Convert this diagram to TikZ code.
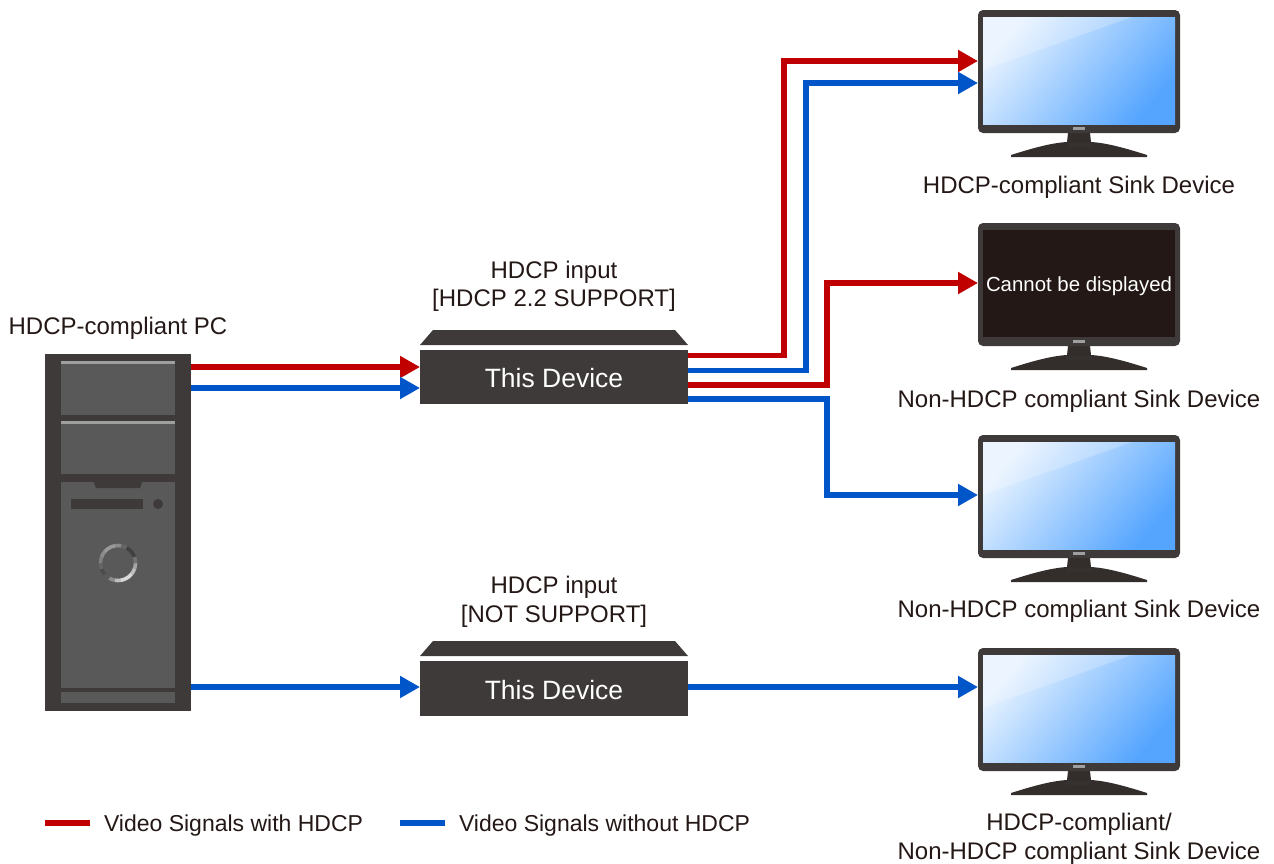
\documentclass[tikz,border=0pt]{standalone}
\usepackage{fontspec}
\setmainfont{Liberation Sans}
\usetikzlibrary{arrows.meta}
\definecolor{body}{HTML}{3E3A39}
\definecolor{panel}{HTML}{595959}
\definecolor{standc}{HTML}{332E2C}
\definecolor{sigred}{HTML}{C00000}
\definecolor{sigblue}{HTML}{0055C8}
\definecolor{txt}{HTML}{231815}
\definecolor{scrA}{HTML}{E6F2FF}
\definecolor{scrB}{HTML}{96C8FF}
\definecolor{scrC}{HTML}{55A5FF}
\tikzset{
  x=1pt,y=-1pt,
  base/.style={inner sep=0pt,outer sep=0pt},
  lbl/.style={base,anchor=base,font=\fontsize{24}{28}\selectfont,text=txt},
  leglbl/.style={base,anchor=base west,font=\fontsize{23}{27}\selectfont,text=txt},
  devtext/.style={base,anchor=center,font=\fontsize{26.5}{30}\selectfont,text=white},
  devbody/.style={base,fill=body,minimum width=268pt,minimum height=54pt},
  frame/.style={base,fill=body,rounded corners=5pt,minimum width=202pt,minimum height=123pt},
  sig/.style={line width=5.5pt,-{Triangle[length=20pt,width=21pt]}},
  legend/.style={line width=5.5pt},
  pcpanel/.style={fill=panel,draw=none},
}
\newcommand{\lidshape}[1]{\fill[body] (420,#1+15) -- (433,#1) -- (675,#1) -- (688,#1+15) -- cycle;}
\newcommand{\monitorat}[2]{%
  \begin{scope}[shift={(0,#2)}]
    \fill[standc] (1068,133) -- (1090,133) -- (1091,142) .. controls (1108,143) and (1128,149) .. (1147,155) -- (1147,157) -- (1011,157) -- (1011,155) .. controls (1030,149) and (1050,143) .. (1067,142) -- cycle;
    \fill[body!85!black] (1066,143) rectangle (1092,147);
    \node[frame] (#1) at (1079,71.5) {};
  \end{scope}}
\newcommand{\bluescreen}[1]{%
  \begin{scope}[shift={(0,#1)}]
    \shade[top color=scrA,middle color=scrB,bottom color=scrC,shading angle=50] (983,17) rectangle (1175,124);
    \fill[white,opacity=0.22] (983,17) -- (1132,17) -- (983,70) -- cycle;
    \fill[gray!75] (1073,127) rectangle (1085,130);
  \end{scope}}
\begin{document}
\begin{tikzpicture}
\useasboundingbox (0,0) rectangle (1274,863);
% PC
\node[base,fill=body,minimum width=146pt,minimum height=357pt] (pc) at (118,532.5) {};
\fill[pcpanel] (61,361) rectangle (175,415);
\fill[gray!75] (61,361) rectangle (175,364);
\fill[pcpanel] (61,421) rectangle (175,474);
\fill[gray!75] (61,421) rectangle (175,423.5);
\fill[pcpanel] (61,482) rectangle (175,688);
\fill[body] (94,482) -- (142,482) -- (140,488) -- (96,488) -- cycle;
\fill[body] (71,499) rectangle (143,509);
\fill[body] (158,504) circle[radius=5];
\fill[pcpanel] (61,692) rectangle (175,703);
\foreach \a/\g in {0/65,20/75,40/85,60/85,80/75,100/55,120/35,140/30,160/40,180/50,200/55,220/60,240/60,260/55,280/40,300/25,320/25,340/45}{
  \pgfmathsetmacro{\b}{\a+21}
  \draw[draw=white!\g!black,line width=3.6pt] ({118+17.5*cos(\a)},{563+17.5*sin(\a)}) arc[start angle=\a,end angle=\b,radius=17.5];
}
% devices
\lidshape{330}
\node[devbody] (dev1) at (554,377) {};
\node[devtext] (dev1t) at (554,378) {This Device};
\lidshape{641}
\node[devbody,minimum height=55pt] (dev2) at (554,688.5) {};
\node[devtext] (dev2t) at (554,690) {This Device};
% monitors
\monitorat{mon1}{0}
\monitorat{mon2}{213}
\monitorat{mon3}{425}
\monitorat{mon4}{638}
\bluescreen{0}
\bluescreen{425}
\bluescreen{638}
\node[base,fill=txt,minimum width=192pt,minimum height=107pt] (scr2) at (1079,283.5) {};
\fill[gray!75] (1073,340) rectangle (1085,343);
\node[base,anchor=center,text=white,font=\fontsize{20.4}{24}\selectfont] (scr2t) at (1079,286) {Cannot be displayed};
% connectors
\coordinate (b1) at (784,200);
\coordinate (b2) at (806,200);
\coordinate (b3) at (827,330);
\coordinate (b4) at (827,450);
\draw[sig,draw=sigred] ([yshift=-13pt]pc.north east) -- ([yshift=10pt]dev1.west);
\draw[sig,draw=sigblue] ([yshift=-34pt]pc.north east) -- ([yshift=-11pt]dev1.west);
\draw[sig,draw=sigblue] ([yshift=-154.5pt]pc.east) -- ([yshift=1.5pt]dev2.west);
\draw[sig,draw=sigblue] ([yshift=1.5pt]dev2.east) -- ([yshift=22.5pt]mon4.west);
\draw[sig,draw=sigred] ([yshift=21.5pt]dev1.east) -| (b1) |- ([yshift=10.5pt]mon1.west);
\draw[sig,draw=sigblue] ([yshift=6.5pt]dev1.east) -| (b2) |- ([yshift=-11.5pt]mon1.west);
\draw[sig,draw=sigred] ([yshift=-8pt]dev1.east) -| (b3) |- ([yshift=1.5pt]mon2.west);
\draw[sig,draw=sigblue] ([yshift=-22pt]dev1.east) -| (b4) |- ([yshift=1.5pt]mon3.west);
% labels
\node[lbl] (t1) at (1079,193) {HDCP-compliant Sink Device};
\node[lbl] (t2) at (1079,407) {Non-HDCP compliant Sink Device};
\node[lbl] (t3) at (1079,617) {Non-HDCP compliant Sink Device};
\node[lbl] (t4a) at (1079,830) {HDCP-compliant/};
\node[lbl] (t4b) at (1079,859) {Non-HDCP compliant Sink Device};
\node[lbl] (t5a) at (554,278) {HDCP input};
\node[lbl] (t5b) at (554,306) {[HDCP 2.2 SUPPORT]};
\node[lbl] (t6a) at (554,593) {HDCP input};
\node[lbl] (t6b) at (554,622) {[NOT SUPPORT]};
\node[lbl] (t7) at (118,334) {HDCP-compliant PC};
% legend
\coordinate (l1a) at (45,823);
\coordinate (l1b) at (90,823);
\coordinate (l2a) at (400,823);
\coordinate (l2b) at (445,823);
\draw[legend,sigred] (l1a) -- (l1b);
\draw[legend,sigblue] (l2a) -- (l2b);
\node[leglbl] (t8) at (104,831) {Video Signals with HDCP};
\node[leglbl] (t9) at (459,831) {Video Signals without HDCP};
\end{tikzpicture}
\end{document}
